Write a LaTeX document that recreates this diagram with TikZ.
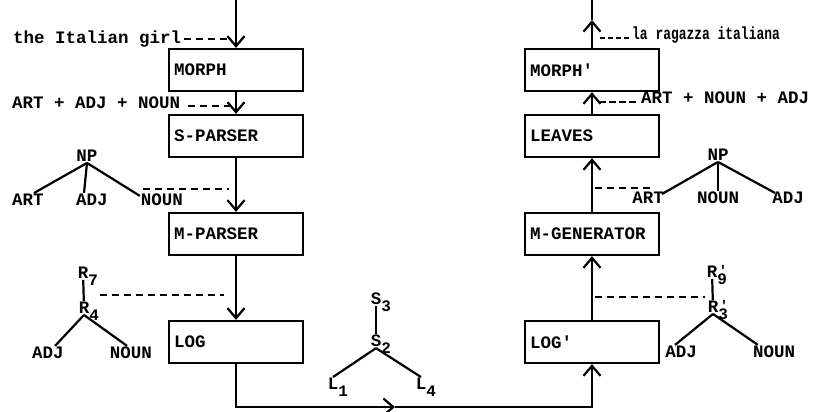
\documentclass[tikz,border=0pt]{standalone}
\usepackage{fontspec}
\newfontfamily\tw{Liberation Mono}
\newfontfamily\twn{Liberation Mono}[FakeStretch=0.74]
\usetikzlibrary{arrows.meta}
\newcommand{\lsub}[1]{\rlap{\smash{\raisebox{-6.5pt}{\fontsize{16}{16}\selectfont #1}}}}
\newcommand{\primesub}[1]{\rlap{\smash{\raisebox{2pt}{\fontsize{14}{14}\selectfont\kern1.5pt\textquotesingle}}}\lsub{#1}}
\begin{document}
\begin{tikzpicture}[x=1pt,y=-1pt,
  every node/.style={font=\tw\bfseries\fontsize{17.5}{20}\selectfont},
  stage/.style={draw, line width=2.3pt, minimum height=42pt, text width=124pt,
    align=left, inner xsep=5pt, inner ysep=0pt},
  flow/.style={line width=2.2pt, -{Straight Barb[length=10pt,width=17pt,line width=2.2pt]}},
  plain/.style={line width=2.2pt},
  dashlink/.style={line width=2pt, dash pattern=on 7pt off 5pt},
  tree/.style={line width=2.2pt},
  treel/.style={inner sep=1pt},
  txt/.style={anchor=base west, inner sep=0pt}]
\useasboundingbox (0,0) rectangle (838,412);

% stages
\node[stage] (morph)  at (236,70)  {MORPH};
\node[stage] (spar)   at (236,136) {S-PARSER};
\node[stage] (mpar)   at (236,234) {M-PARSER};
\node[stage] (log)    at (236,342) {LOG};
\node[stage] (morphp) at (592,70)  {MORPH\textquotesingle};
\node[stage] (leaves) at (592,136) {LEAVES};
\node[stage] (mgen)   at (592,234) {M-GENERATOR};
\node[stage] (logp)   at (592,342) {LOG\textquotesingle};

\coordinate (tl) at (236,0);
\coordinate (tr) at (592,0);
\coordinate (trm) at (592,20);
\coordinate (bl) at (236,407);
\coordinate (bm) at (395,407);
\coordinate (br) at (592,407);

% flow
\draw[flow] (tl) -- (morph.north);
\draw[flow] (morph) -- (spar);
\draw[flow] (spar) -- (mpar);
\draw[flow] (mpar) -- (log);
\draw[flow] (log.south) -- (bl) -- (bm);
\draw[flow] (bm) -- (br) -- (logp.south);
\draw[flow] (logp) -- (mgen);
\draw[flow] (mgen) -- (leaves);
\draw[flow] (leaves) -- (morphp);
\draw[flow] (morphp.north) -- (trm);
\draw[plain] (trm) -- (tr);

% text labels
\node[txt] (lit) at (13,44) {the Italian girl};
\coordinate (litend) at (231,39);
\draw[dashlink] (184,39) -- (litend);

\node[txt] (aan) at (12,108) {ART + ADJ + NOUN};
\coordinate (aanend) at (231,106);
\draw[dashlink] (188,106) -- (aanend);

\node[txt, font=\twn\bfseries\fontsize{17.5}{20}\selectfont] (lri) at (632,40) {la ragazza italiana};
\coordinate (lristart) at (600,38);
\draw[dashlink, dash pattern=on 5pt off 3pt] (lristart) -- (630,38);

\node[txt] (ana) at (641,103) {ART + NOUN + ADJ};
\coordinate (anastart) at (599,102);
\draw[dashlink, dash pattern=on 7pt off 3pt] (anastart) -- (639,102);

% left NP tree
\node[treel] (np1) at (87,156) {NP};
\node[treel] (art1) at (28,200) {ART};
\node[treel] (adj1) at (92,200) {ADJ};
\node[treel] (noun1) at (162,200) {NOUN};
\draw[tree] (np1.south) -- ([xshift=6pt]art1.north);
\draw[tree] (np1.south) -- ([xshift=-8pt]adj1.north);
\draw[tree] (np1.south) -- ([yshift=-3pt]noun1.north west);
\coordinate (d3) at (229,189);
\draw[dashlink] (143,189) -- (d3);

% right NP tree
\node[treel] (np2) at (718,155) {NP};
\node[treel] (art2) at (648,198) {ART};
\node[treel] (noun2) at (718,198) {NOUN};
\node[treel] (adj2) at (788,198) {ADJ};
\draw[tree] (np2.south) -- ([yshift=-3pt,xshift=-3pt]art2.north east);
\draw[tree] (np2.south) -- (noun2.north);
\draw[tree] (np2.south) -- ([yshift=-2pt,xshift=4pt]adj2.north west);
\coordinate (d4) at (595,188);
\draw[dashlink] (d4) -- (654,188);

% left R tree
\node[treel] (r7) at (83,273) {R\lsub{7}};
\node[treel] (r4) at (84,308) {R\lsub{4}};
\node[treel] (adj3) at (48,353) {ADJ};
\node[treel] (noun3) at (131,353) {NOUN};
\draw[tree] (r7) -- (r4);
\draw[tree] (r4.south) -- ([xshift=7pt]adj3.north);
\draw[tree] (r4.south) -- ([xshift=-4pt]noun3.north);
\coordinate (d5a) at (100,295);
\coordinate (d5b) at (224,295);
\draw[dashlink] (d5a) -- (d5b);

% middle tree
\node[treel] (s3) at (376,299) {S\lsub{3}};
\node[treel] (s2) at (376,341) {S\lsub{2}};
\node[treel] (l1) at (333,384) {L\lsub{1}};
\node[treel] (l4) at (421,384) {L\lsub{4}};
\draw[tree] (s3) -- (s2);
\draw[tree] (s2.south) -- (l1.north);
\draw[tree] (s2.south) -- (l4.north);

% right R' tree
\node[treel] (r9) at (712,272) {R\primesub{9}};
\node[treel] (r3) at (713,307) {R\primesub{3}};
\node[treel] (adj4) at (681,352) {ADJ};
\node[treel] (noun4) at (774,352) {NOUN};
\draw[tree] (r9) -- (r3);
\draw[tree] (r3.south) -- ([xshift=-6pt]adj4.north);
\draw[tree] (r3.south) -- ([xshift=6pt]noun4.north west);
\coordinate (d6a) at (595,297);
\draw[dashlink] (d6a) -- (705,297);
\end{tikzpicture}
\end{document}
